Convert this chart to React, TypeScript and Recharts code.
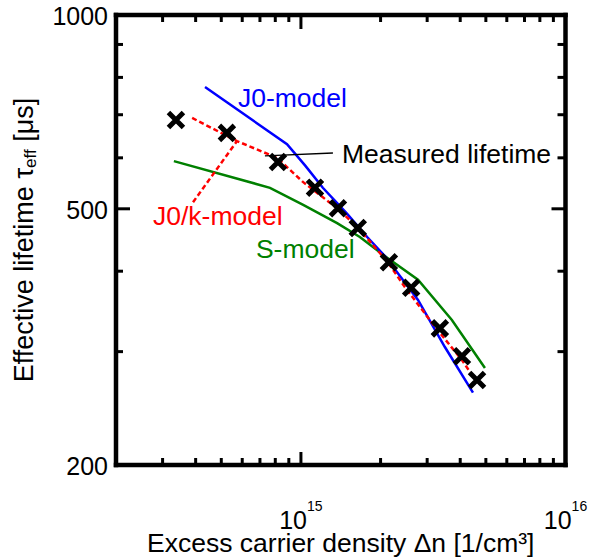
import React from 'react';
import {
  ComposedChart,
  Line,
  Scatter,
  XAxis,
  YAxis,
  ReferenceLine,
  ReferenceDot,
  Label,
} from 'recharts';

// ---- data ----
const measuredDn = [3.37e14, 5.25e14, 8.19e14, 1.13e15, 1.38e15, 1.64e15, 2.15e15, 2.61e15, 3.35e15, 4.06e15, 4.63e15];
const measuredTau = [687, 656, 591, 539, 501, 467, 413, 377, 326, 295, 271];

const j0Dn = [4.34e14, 8.86e14, 1.04e15, 1.21e15, 1.49e15, 1.78e15, 2.08e15, 2.77e15, 3.5e15, 4.47e15];
const j0Tau = [773, 630, 583, 539, 492, 452, 422, 361, 305, 259];

const j0kDn = [3.88e14, 5.73e14, 8.12e14, 1.02e15, 1.37e15, 1.63e15, 2.13e15, 2.47e15, 3.21e15, 4.06e15, 4.63e15];
const j0kTau = [692, 637, 600, 550, 501, 469, 413, 378, 328, 291, 269];

const sDn = [3.31e14, 7.64e14, 1.02e15, 1.37e15, 1.67e15, 2.08e15, 2.77e15, 3.72e15, 4.96e15];
const sTau = [593, 539, 507, 475, 452, 422, 388, 336, 283];

// ---- axes ----
const xDomain = [2e14, 1e16];
const yDomain = [200, 1000];
const xMajorTicks = [1e15, 1e16];
const xMinorTicks = [3e14, 4e14, 5e14, 6e14, 7e14, 8e14, 9e14, 2e15, 3e15, 4e15, 5e15, 6e15, 7e15, 8e15, 9e15];
const yMajorTicks = [200, 500, 1000];
const yMinorTicks = [300, 400, 600, 700, 800, 900];
const xTicks = [...xMinorTicks, ...xMajorTicks].sort((a, b) => a - b);
const yTicks = [...yMinorTicks, ...yMajorTicks].sort((a, b) => a - b);

// ---- annotations ----
const annotationText = ['J0-model', 'Measured lifetime', 'J0/k-model', 'S-model'];
const annotationDn = [5.78e14, 1.429e15, 2.76e14, 6.76e14];
const annotationTau = [720, 589, 472, 419.5];
const annotationColor = ['#0000ff', '#000000', '#ff0000', '#008000'];

const measuredLeader = [
  { x: 7.31e14, y: 604 },
  { x: 1.321e15, y: 610.5 },
];
const j0kLeader = [
  { x: 3.91e14, y: 512 },
  { x: 5.73e14, y: 637 },
];

const toPoints = (xs: number[], ys: number[]) => xs.map((x, i) => ({ x, y: ys[i] }));
const measuredData = toPoints(measuredDn, measuredTau);
const j0Data = toPoints(j0Dn, j0Tau);
const j0kData = toPoints(j0kDn, j0kTau);
const sData = toPoints(sDn, sTau);

const FONT = '"Liberation Sans", Arial, Helvetica, sans-serif';
const AXIS_LINE = { stroke: '#000', strokeWidth: 4.5, strokeLinecap: 'square' as const };

const XBottomTick = (props: any) => {
  const { x, y, payload } = props;
  const v = payload.value;
  const major = xMajorTicks.includes(v);
  const len = major ? 13 : 7;
  return (
    <g>
      <line x1={x} y1={y} x2={x} y2={y - len} stroke="#000" strokeWidth={3} />
      {major && (
        <text x={x} y={y + 64} textAnchor="middle" fontFamily={FONT} fontSize={25} fill="#000">
          10
          <tspan dy={-18} fontSize={14}>
            {Math.round(Math.log10(v))}
          </tspan>
        </text>
      )}
    </g>
  );
};

const XTopTick = (props: any) => {
  const { x, y, payload } = props;
  const major = xMajorTicks.includes(payload.value);
  const len = major ? 14 : 7;
  return <line x1={x} y1={y} x2={x} y2={y + len} stroke="#000" strokeWidth={3} />;
};

const YLeftTick = (props: any) => {
  const { x, y, payload } = props;
  const major = yMajorTicks.includes(payload.value);
  const len = major ? 14 : 7;
  return (
    <g>
      <line x1={x} y1={y} x2={x + len} y2={y} stroke="#000" strokeWidth={3} />
      {major && (
        <text x={x - 8} y={y + 10} textAnchor="end" fontFamily={FONT} fontSize={25} fill="#000">
          {payload.value}
        </text>
      )}
    </g>
  );
};

const YRightTick = (props: any) => {
  const { x, y, payload } = props;
  const major = yMajorTicks.includes(payload.value);
  const len = major ? 14 : 8;
  return <line x1={x} y1={y} x2={x - len} y2={y} stroke="#000" strokeWidth={3} />;
};

const Cross = (props: any) => {
  const { cx, cy } = props;
  const a = 7.5;
  return (
    <path
      d={`M${cx - a},${cy - a}L${cx + a},${cy + a}M${cx - a},${cy + a}L${cx + a},${cy - a}`}
      stroke="#000"
      strokeWidth={5}
      fill="none"
    />
  );
};

const Nothing = () => <g />;

const XTitle = (props: any) => {
  const vb = props.viewBox;
  return (
    <text x={vb.x + vb.width / 2} y={vb.y + 87} textAnchor="middle" fontFamily={FONT} fontSize={26.5} fill="#000">
      Excess carrier density Δn [1/cm³]
    </text>
  );
};

const YTitle = (props: any) => {
  const vb = props.viewBox;
  const cx = 33;
  const cy = vb.y + vb.height / 2;
  return (
    <text
      x={cx}
      y={cy}
      transform={`rotate(-90, ${cx}, ${cy})`}
      textAnchor="middle"
      fontFamily={FONT}
      fontSize={27}
      fill="#000"
    >
      Effective lifetime τ
      <tspan fontSize={17} dy={3}>
        eff
      </tspan>
      <tspan dy={-3}> [μs]</tspan>
    </text>
  );
};

export default function App() {
  return (
    <div style={{ position: 'absolute', left: 0, top: 0, width: 590, height: 558, background: '#fff' }}>
      <ComposedChart width={590} height={558} margin={{ top: 14, right: 23.5, bottom: 0, left: 0 }}>
        <XAxis
          xAxisId="b"
          dataKey="x"
          type="number"
          scale="log"
          domain={xDomain}
          allowDataOverflow
          ticks={xTicks}
          interval={0}
          tickSize={0}
          tickMargin={0}
          tickLine={false}
          axisLine={AXIS_LINE}
          tick={<XBottomTick />}
          height={93}
        >
          <Label content={<XTitle />} />
        </XAxis>
        <XAxis
          xAxisId="t"
          orientation="top"
          dataKey="x"
          type="number"
          scale="log"
          domain={xDomain}
          allowDataOverflow
          ticks={xTicks}
          interval={0}
          tickSize={0}
          tickMargin={0}
          tickLine={false}
          axisLine={AXIS_LINE}
          tick={<XTopTick />}
          height={1}
        />
        <YAxis
          yAxisId="l"
          dataKey="y"
          type="number"
          scale="log"
          domain={yDomain}
          allowDataOverflow
          ticks={yTicks}
          interval={0}
          tickSize={0}
          tickMargin={0}
          tickLine={false}
          axisLine={AXIS_LINE}
          tick={<YLeftTick />}
          width={116}
        >
          <Label content={<YTitle />} />
        </YAxis>
        <YAxis
          yAxisId="r"
          orientation="right"
          dataKey="y"
          type="number"
          scale="log"
          domain={yDomain}
          allowDataOverflow
          ticks={yTicks}
          interval={0}
          tickSize={0}
          tickMargin={0}
          tickLine={false}
          axisLine={AXIS_LINE}
          tick={<YRightTick />}
          width={1}
        />

        {/* invisible series so the top and right frame axes are drawn */}
        <Scatter
          xAxisId="t"
          yAxisId="r"
          data={measuredData}
          dataKey="y"
          shape={<Nothing />}
          isAnimationActive={false}
        />

        <Scatter
          xAxisId="b"
          yAxisId="l"
          data={measuredData}
          dataKey="y"
          shape={<Cross />}
          isAnimationActive={false}
        />
        <Line
          xAxisId="b"
          yAxisId="l"
          data={sData}
          dataKey="y"
          type="linear"
          stroke="#008000"
          strokeWidth={2.5}
          dot={false}
          activeDot={false}
          isAnimationActive={false}
        />
        <Line
          xAxisId="b"
          yAxisId="l"
          data={j0Data}
          dataKey="y"
          type="linear"
          stroke="#0000ff"
          strokeWidth={2.5}
          dot={false}
          activeDot={false}
          isAnimationActive={false}
        />
        <Line
          xAxisId="b"
          yAxisId="l"
          data={j0kData}
          dataKey="y"
          type="linear"
          stroke="#ff0000"
          strokeWidth={2.5}
          strokeDasharray="5 3"
          dot={false}
          activeDot={false}
          isAnimationActive={false}
        />

        <ReferenceLine xAxisId="b" yAxisId="l" segment={measuredLeader} stroke="#000" strokeWidth={1.3} />
        <ReferenceLine
          xAxisId="b"
          yAxisId="l"
          segment={j0kLeader}
          stroke="#ff0000"
          strokeWidth={2.5}
          strokeDasharray="5 3"
        />

        {annotationText.map((t, i) => (
          <ReferenceDot
            key={t}
            xAxisId="b"
            yAxisId="l"
            x={annotationDn[i]}
            y={annotationTau[i]}
            r={1}
            ifOverflow="visible"
            shape={(p: any) => (
              <text x={p.cx} y={p.cy} fontFamily={FONT} fontSize={26.5} fill={annotationColor[i]}>
                {t}
              </text>
            )}
          />
        ))}
      </ComposedChart>
    </div>
  );
}
